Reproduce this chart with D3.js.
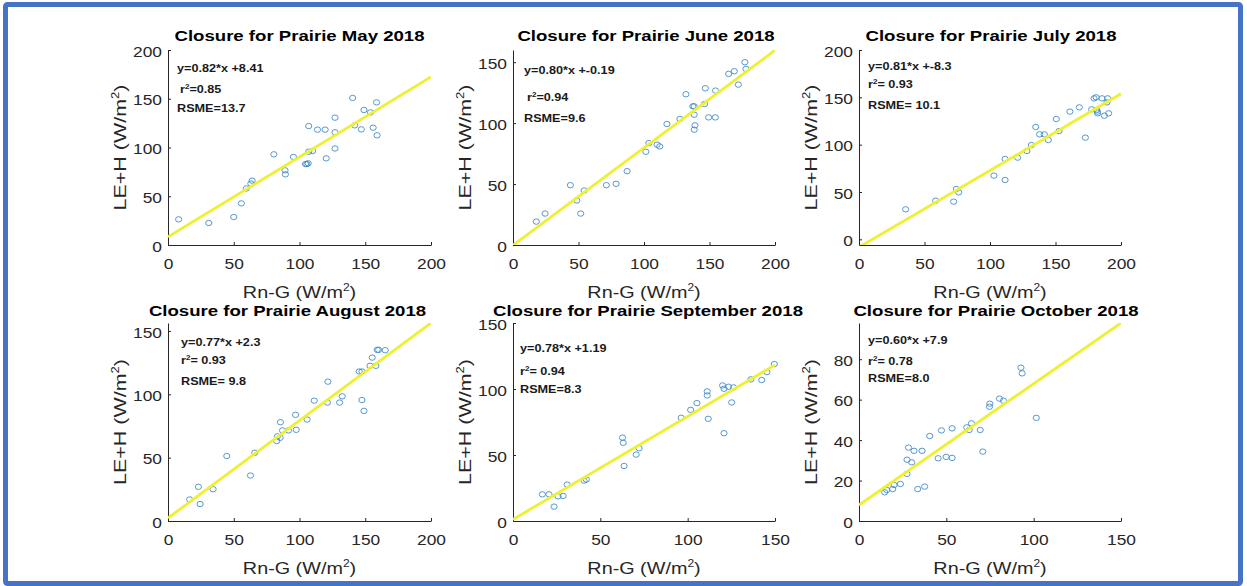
<!DOCTYPE html>
<meta charset="utf-8">
<style>
body { margin: 0; background: #fff; }
svg text { font-family: "Liberation Sans", Arial, Helvetica, sans-serif; }
.axis { color: #262626; }
.axis text { font-size: 15.5px; fill: #262626; }
.title { font-size: 15.5px; font-weight: bold; fill: #000; }
.label { font-size: 16.5px; fill: #262626; }
.note { font-size: 11px; font-weight: bold; fill: #1a1a1a; }
</style>
<body>
<svg width="1247" height="586"></svg>
<script src="https://d3js.org/d3.v7.min.js"></script>
<script>

// ---- data ----
var months = ["May", "June", "July", "August", "September", "October"];
var slopes = [0.82, 0.80, 0.81, 0.77, 0.78, 0.60];
var intercepts = [8.41, -0.19, -8.3, 2.3, 1.19, 7.9];
var eqLabels = ["y=0.82*x +8.41", "y=0.80*x +-0.19", "y=0.81*x +-8.3", "y=0.77*x +2.3", "y=0.78*x +1.19", "y=0.60*x +7.9"];
var r2Labels = ["=0.85", "=0.94", "= 0.93", "= 0.93", "= 0.94", "= 0.78"];
var rsmeLabels = ["RSME=13.7", "RSME=9.6", "RSME= 10.1", "RSME= 9.8", "RSME=8.3", "RSME=8.0"];

var xDomains = [[0, 200], [0, 200], [0, 200], [0, 200], [0, 150], [0, 150]];
var yDomains = [[0, 200], [0, 160], [-6, 200], [0, 156.3], [0, 150], [0, 97.9]];
var xTicks = [[0, 50, 100, 150, 200], [0, 50, 100, 150, 200], [0, 50, 100, 150, 200],
              [0, 50, 100, 150, 200], [0, 50, 100, 150], [0, 50, 100, 150]];
var yTicks = [[0, 50, 100, 150, 200], [0, 50, 100, 150], [0, 50, 100, 150, 200],
              [0, 50, 100, 150], [0, 50, 100, 150], [0, 20, 40, 60, 80]];

var mayX = [8.1, 31, 50, 55.8, 59.6, 63, 64, 80.5, 89, 89.3, 95.4, 104.6, 105.6, 106.6, 107, 110, 107, 113.7, 119.5, 120.3, 127, 127, 127, 140.4, 142, 147, 149, 154, 156, 158.6, 159];
var mayY = [26.3, 22.6, 28.7, 42.7, 58, 63, 66, 93, 76.6, 72.5, 90.3, 83, 83, 83.8, 95.7, 96.4, 122, 118.3, 118.3, 88.9, 130.6, 115.6, 99, 150.8, 122.7, 118.6, 138.5, 136, 120.3, 146.3, 112.5];

var junX = [17.8, 24.5, 43.8, 48.7, 51.7, 54.3, 71.3, 78.7, 87.1, 101.4, 103.7, 110, 112, 117.5, 127.4, 132, 137.3, 138.3, 138.3, 138.3, 138.9, 146.2, 146.8, 149.3, 154.4, 154.6, 164.6, 168.9, 172, 177, 177.8];
var junY = [19.2, 25.8, 49.1, 36.5, 25.8, 44.7, 49.1, 50.2, 60.6, 76.5, 83.6, 82.3, 80.9, 99.3, 103.4, 123.7, 113.8, 113.8, 106.9, 94.6, 98.2, 115.7, 128.6, 104.7, 104.7, 126.7, 140.4, 142.6, 131.6, 150, 144.5];

var julX = [35.6, 58.5, 72.3, 74.3, 76.1, 103, 111.5, 111.5, 121.1, 128.2, 131.6, 134.9, 137.9, 141.5, 144.5, 150.6, 152.7, 161, 168.2, 172.8, 177.6, 179.4, 181, 181.4, 182, 182.2, 185.5, 187.3, 189.3, 189.8, 190.6];
var julY = [31.7, 40.8, 39.8, 53.2, 49.6, 67.3, 84.9, 62.7, 86.3, 93.3, 99.6, 118.7, 110.9, 110.9, 104.9, 127.1, 114.4, 134.9, 139.4, 107.4, 137.3, 148.9, 150, 136.6, 134.9, 133.1, 148.9, 130.6, 144.7, 148.9, 133.1];

var augX = [16.5, 23.1, 24.4, 34.3, 44.7, 62.7, 66, 82.7, 83.2, 85.3, 85.5, 87.1, 91.6, 97, 97.5, 105.8, 111.2, 121.3, 121.6, 130.5, 132.5, 145.4, 147.5, 147.5, 149, 153.6, 155.3, 158.1, 159.1, 160.2, 165.2];
var augY = [17, 27, 13.4, 25.1, 51.3, 35.9, 53.9, 63.1, 66.8, 65.7, 78, 71.5, 71.5, 83.8, 72, 80.1, 95, 93.5, 110, 93.5, 98.4, 118, 118, 95.5, 86.9, 122.5, 129, 122.5, 135.1, 135.1, 134.8];

var sepX = [16.8, 20.6, 23.5, 25.8, 28.7, 31, 40.7, 42, 62.7, 63.1, 63.6, 70.5, 72.2, 96.3, 101.7, 105.3, 111.2, 111.2, 111.8, 120, 120.8, 120.8, 123.4, 125.2, 126.3, 136.2, 142.4, 145.4, 149.6];
var sepY = [20.2, 20.2, 10.9, 18.7, 19, 27.6, 30.6, 31.4, 63.2, 59.2, 41.7, 50.3, 55.1, 78.2, 84.2, 89.3, 98.2, 95.1, 77.4, 102.7, 100.2, 66.5, 101.7, 89.8, 101.2, 107.3, 106.8, 112.8, 118.9];

var octX = [14.7, 15.9, 19.3, 20.1, 23.7, 27.5, 27.5, 28.3, 30.2, 31.5, 33.6, 36.1, 37.6, 40.5, 45.3, 47.2, 49.9, 53.3, 53.3, 61.7, 63.1, 64.4, 69.4, 70.9, 74.7, 74.9, 80.4, 82.7, 92.7, 93.4, 101.5];
var octY = [14.2, 15.3, 15.8, 17.8, 18.3, 30.3, 23.3, 36.3, 29, 34.7, 15.8, 34.7, 17, 42, 31, 44.8, 31.7, 31.2, 45.8, 46.3, 45, 48.3, 45, 34.3, 56.5, 58, 60.5, 59.5, 75.8, 73, 51];

var xsAll = [mayX, junX, julX, augX, sepX, octX];
var ysAll = [mayY, junY, julY, augY, sepY, octY];

// ---- layout ----
var cols = [[168, 431], [513, 775], [859, 1121]];
var rows = [[50, 245], [323, 521]];
var titleBase = [41, 315.5];
var titleDx = [0, 2, 1, -12, 4, 6];
// annotation: [dx from y axis, line1, line2, line3 offsets from plot top]
var notePos = [[9, 18, 39, 58], [11, 20, 47, 68], [9, 16, 34, 55],
               [13, 19, 37, 58], [7, 25, 48, 66], [9, 17, 38, 55]];

var svg = d3.select("svg");

svg.append("rect")
    .attr("x", 5.5).attr("y", 4.5)
    .attr("width", 1235).attr("height", 579)
    .attr("rx", 2)
    .attr("fill", "#fff")
    .attr("stroke", "#4673c6")
    .attr("stroke-width", 5);

function unitLabel(t, before) {
  t.append("tspan").text(before);
  t.append("tspan").text("2").attr("font-size", "10px").attr("dy", -7);
  t.append("tspan").text(")").attr("dy", 7);
}

months.forEach(function(m, i) {
  var col = i % 3, row = Math.floor(i / 3);
  var x0 = cols[col][0], x1 = cols[col][1];
  var yTop = rows[row][0], yBot = rows[row][1];

  var x = d3.scaleLinear().domain(xDomains[i]).range([x0, x1]);
  var y = d3.scaleLinear().domain(yDomains[i]).range([yBot, yTop]);

  svg.append("clipPath").attr("id", "clip" + i)
    .append("rect")
      .attr("x", x0).attr("y", yTop)
      .attr("width", x1 - x0).attr("height", yBot - yTop);

  var g = svg.append("g");

  g.append("g")
      .attr("class", "axis")
      .attr("transform", "translate(0," + yBot + ")")
      .call(d3.axisBottom(x).tickValues(xTicks[i]).tickSizeInner(-3).tickSizeOuter(0).tickPadding(12.5))
      .call(function(a) { a.selectAll("text").attr("transform", "scale(1.12,1)"); });

  g.append("g")
      .attr("class", "axis")
      .attr("transform", "translate(" + x0 + ",0)")
      .call(d3.axisLeft(y).tickValues(yTicks[i]).tickSizeInner(-3).tickSizeOuter(0).tickPadding(6))
      .call(function(a) {
        a.selectAll("text")
          .attr("x", -6 / 1.12)
          .attr("dy", "0.4em")
          .attr("transform", "scale(1.12,1)");
      });

  // points
  g.append("g").selectAll("ellipse")
    .data(xsAll[i].map(function(d, j) { return [d, ysAll[i][j]]; }))
    .enter().append("ellipse")
      .attr("cx", function(d) { return x(d[0]); })
      .attr("cy", function(d) { return y(d[1]); })
      .attr("rx", 3.1)
      .attr("ry", 2.7)
      .attr("fill", "none")
      .attr("stroke", "#3a86c6")
      .attr("stroke-width", 0.85);

  // fit line
  var d0 = xDomains[i][0], d1 = xDomains[i][1];
  g.append("line")
      .attr("clip-path", "url(#clip" + i + ")")
      .attr("x1", x(d0)).attr("y1", y(slopes[i] * d0 + intercepts[i]))
      .attr("x2", x(d1)).attr("y2", y(slopes[i] * d1 + intercepts[i]))
      .attr("stroke", "#eef032")
      .attr("stroke-width", 2.8);

  // title
  g.append("text")
      .attr("class", "title")
      .attr("text-anchor", "middle")
      .attr("transform", "translate(" + ((x0 + x1) / 2 + titleDx[i]) + "," + titleBase[row] + ") scale(1.2,1)")
      .text("Closure for Prairie " + m + " 2018");

  // axis labels
  var xl = g.append("text")
      .attr("class", "label")
      .attr("text-anchor", "middle")
      .attr("transform", "translate(" + ((x0 + x1) / 2) + "," + (yBot + 52.5) + ") scale(1.2,1)");
  unitLabel(xl, "Rn-G (W/m");

  var yl = g.append("text")
      .attr("class", "label")
      .attr("text-anchor", "middle")
      .attr("transform", "translate(" + (x0 - 42) + "," + ((yTop + yBot) / 2) + ") rotate(-90) scale(1.3,1)");
  unitLabel(yl, "LE+H (W/m");

  // fit statistics
  var p = notePos[i];
  function note(dx, dy) {
    return g.append("text").attr("class", "note")
        .attr("dy", "0.36em")
        .attr("transform", "translate(" + (x0 + dx) + "," + (yTop + dy) + ") scale(1.15,1)");
  }
  note(p[0], p[1]).text(eqLabels[i]);
  var r2 = note(p[0] + (r2Labels[i].charAt(1) === " " ? 0 : 3), p[2]);
  r2.append("tspan").text("r");
  r2.append("tspan").text("2").attr("font-size", "7px").attr("dy", -4);
  r2.append("tspan").text(r2Labels[i]).attr("dy", 4);
  note(p[0], p[3]).text(rsmeLabels[i]);
});

</script>
</body>
